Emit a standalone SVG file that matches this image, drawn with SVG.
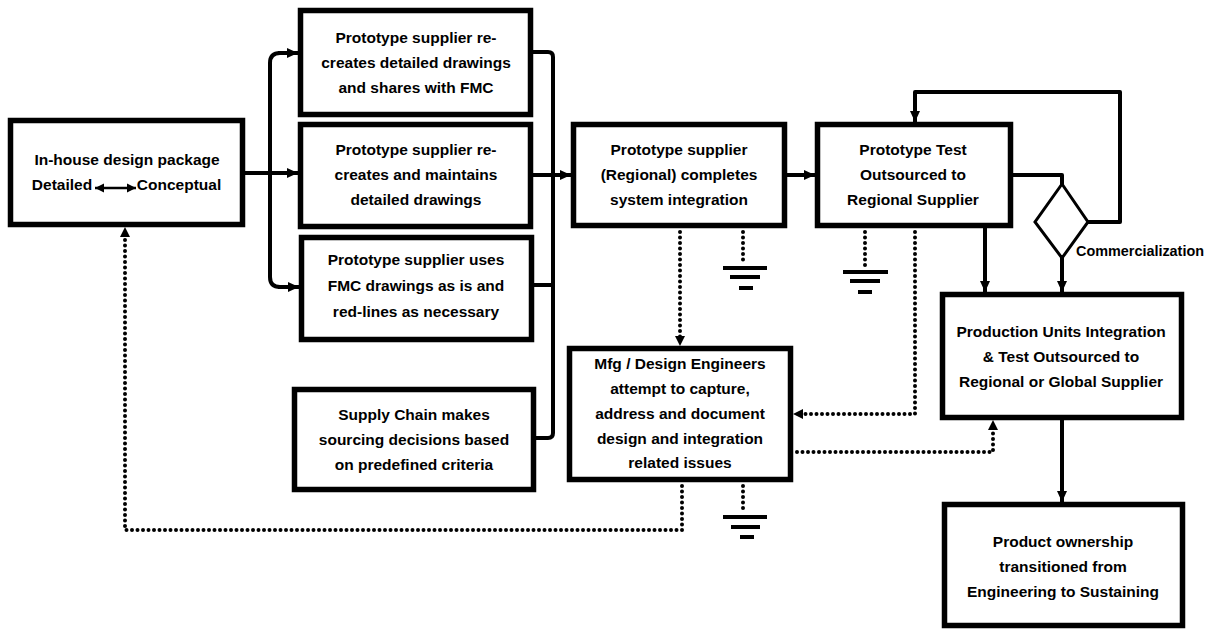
<svg xmlns="http://www.w3.org/2000/svg" width="1213" height="631" viewBox="0 0 1213 631">
<style>
.box{fill:#fff;stroke:#000;stroke-width:5.5}
.t{font-family:"Liberation Sans",Arial,sans-serif;font-weight:bold;font-size:15.5px;fill:#000;text-anchor:middle}
.ln{fill:none;stroke:#000;stroke-width:4;stroke-linejoin:round}
.dot{fill:none;stroke:#000;stroke-width:4;stroke-linecap:round;stroke-dasharray:0 5.5}
.gnd{stroke:#000;stroke-width:4}
.dia{fill:#fff;stroke:#000;stroke-width:3}
</style>
<defs>
<marker id="ah" markerUnits="userSpaceOnUse" markerWidth="12" markerHeight="12" refX="11" refY="6" orient="auto">
<path d="M0,1 L11,6 L0,11 z" fill="#000"/>
</marker>
<marker id="ahs" markerUnits="userSpaceOnUse" markerWidth="10" markerHeight="10" refX="9" refY="5" orient="auto">
<path d="M0,0.5 L9,5 L0,9.5 z" fill="#000"/>
</marker>
<marker id="ahsr" markerUnits="userSpaceOnUse" markerWidth="10" markerHeight="10" refX="0" refY="5" orient="auto">
<path d="M9,0.5 L0,5 L9,9.5 z" fill="#000"/>
</marker>
</defs>

<g id="connectors">
<!-- left fan-out -->
<path class="ln" d="M245,173 H270"/>
<path class="ln" d="M280,53 Q270,53 270,63 V277 Q270,287 280,287"/>
<path class="ln" d="M278,53 H298" marker-end="url(#ah)"/>
<path class="ln" d="M270,173 H298" marker-end="url(#ah)"/>
<path class="ln" d="M278,287 H299" marker-end="url(#ah)"/>
<!-- right bus -->
<path class="ln" d="M533,52 H548 Q553,52 553,57 V433 Q553,438 548,438 H536"/>
<path class="ln" d="M533,175 H571" marker-end="url(#ah)"/>
<path class="ln" d="M534,285 H553"/>
<!-- box4 -> box5 -->
<path class="ln" d="M787,175 H815" marker-end="url(#ah)"/>
<!-- box5 -> diamond -->
<path class="ln" d="M1013,175 H1062 V185"/>
<!-- loop back -->
<path class="ln" d="M1088,222 H1120 V92 H915 V122" marker-end="url(#ah)"/>
<!-- diamond -> production -->
<path class="ln" d="M1062,258 V292" marker-end="url(#ah)"/>
<!-- box5 -> production -->
<path class="ln" d="M985,228 V292" marker-end="url(#ah)"/>
<!-- production -> product -->
<path class="ln" d="M1062,420 V502" marker-end="url(#ah)"/>

<!-- dotted -->
<path class="dot" d="M680,232 V338"/>
<path d="M675,336 L680,346 L685,336 z" fill="#000"/>
<path class="dot" d="M915,232 V414 H802"/>
<path d="M803,409 L793,414 L803,419 z" fill="#000"/>
<path class="dot" d="M797,452 H993 V430"/>
<path d="M988,430 L993,420 L998,430 z" fill="#000"/>
<path class="dot" d="M682,486 V530 H125 V236"/>
<path d="M120,237 L125,227 L130,237 z" fill="#000"/>

<!-- grounds -->
<path class="dot" d="M743,232 V262"/>
<path class="gnd" d="M723,268 H767 M730,277 H760 M739,288 H753"/>
<path class="dot" d="M865,232 V266"/>
<path class="gnd" d="M843,272 H888 M850,281 H880 M858,292 H872"/>
<path class="dot" d="M743,486 V511"/>
<path class="gnd" d="M723,517 H767 M731,527 H760 M740,537 H754"/>
</g>

<g id="n-inhouse">
<rect class="box" x="10.5" y="120.5" width="232" height="104"/>
<text class="t" x="127" y="165">In-house design package</text>
<text class="t" x="62" y="190">Detailed</text>
<text class="t" x="179" y="190">Conceptual</text>
<path d="M95,188 H136" stroke="#000" stroke-width="2.5" marker-start="url(#ahsr)" marker-end="url(#ahs)"/>
</g>

<g id="n-proto1">
<rect class="box" x="300.5" y="10.5" width="230" height="104"/>
<text class="t" x="416" y="43">Prototype supplier re-</text>
<text class="t" x="416" y="68">creates detailed drawings</text>
<text class="t" x="416" y="93">and shares with FMC</text>
</g>

<g id="n-proto2">
<rect class="box" x="300.5" y="124.5" width="230" height="102"/>
<text class="t" x="416" y="155">Prototype supplier re-</text>
<text class="t" x="416" y="180">creates and maintains</text>
<text class="t" x="416" y="205">detailed drawings</text>
</g>

<g id="n-proto3">
<rect class="box" x="301.5" y="237.5" width="230" height="102"/>
<text class="t" x="416" y="265">Prototype supplier uses</text>
<text class="t" x="416" y="291">FMC drawings as is and</text>
<text class="t" x="416" y="317">red-lines as necessary</text>
</g>

<g id="n-supply">
<rect class="box" x="294.5" y="389.5" width="239" height="100"/>
<text class="t" x="414" y="420">Supply Chain makes</text>
<text class="t" x="414" y="445">sourcing decisions based</text>
<text class="t" x="414" y="470">on predefined criteria</text>
</g>

<g id="n-regional">
<rect class="box" x="573.5" y="124.5" width="211" height="101"/>
<text class="t" x="679" y="155">Prototype supplier</text>
<text class="t" x="679" y="180">(Regional) completes</text>
<text class="t" x="679" y="205">system integration</text>
</g>

<g id="n-test">
<rect class="box" x="817.5" y="124.5" width="193" height="101"/>
<text class="t" x="913" y="155">Prototype Test</text>
<text class="t" x="913" y="180">Outsourced to</text>
<text class="t" x="913" y="205">Regional Supplier</text>
</g>

<g id="n-decision">
<path class="dia" d="M1062,184 L1088,222 L1062,258 L1035,222 z"/>
<text x="1076" y="256" textLength="128" lengthAdjust="spacingAndGlyphs" style="font-family:'Liberation Sans',Arial,sans-serif;font-weight:bold;font-size:14px">Commercialization</text>
</g>

<g id="n-mfg">
<rect class="box" x="569.5" y="348.5" width="221" height="131"/>
<text class="t" x="680" y="369">Mfg / Design Engineers</text>
<text class="t" x="680" y="394">attempt to capture,</text>
<text class="t" x="680" y="419">address and document</text>
<text class="t" x="680" y="444">design and integration</text>
<text class="t" x="680" y="468">related issues</text>
</g>

<g id="n-production">
<rect class="box" x="942.5" y="294.5" width="239" height="123"/>
<text class="t" x="1061" y="337">Production Units Integration</text>
<text class="t" x="1061" y="362">&amp; Test Outsourced to</text>
<text class="t" x="1061" y="387">Regional or Global Supplier</text>
</g>

<g id="n-product">
<rect class="box" x="944.5" y="504.5" width="238" height="121"/>
<text class="t" x="1063" y="547">Product ownership</text>
<text class="t" x="1063" y="572">transitioned from</text>
<text class="t" x="1063" y="597">Engineering to Sustaining</text>
</g>
</svg>
